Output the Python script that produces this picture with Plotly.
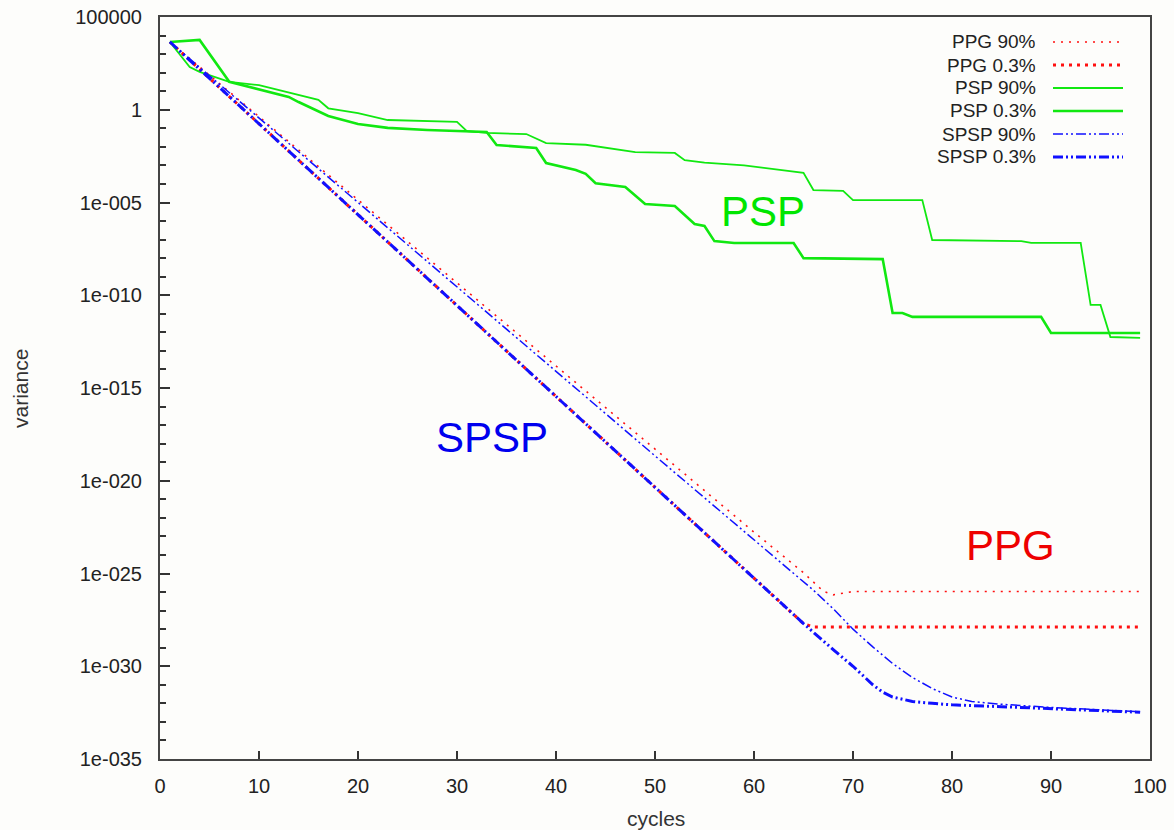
import plotly.graph_objects as go

# ---------------- data ----------------
ppg90_x = [1, 10, 20, 30, 40, 50, 60, 65, 66, 67, 68, 69, 70, 80, 90, 99]
ppg90_y = [4.5e3, 4.2e-1, 1.4e-5, 4.6e-10, 1.5e-14, 5.0e-19, 1.7e-23, 1.1e-25,
           3.5e-26, 1.1e-26, 7.1e-27, 8.9e-27, 1.07e-26, 1.07e-26, 1.07e-26, 1.07e-26]

ppg03_x = [1, 10, 20, 30, 40, 50, 60, 65, 66, 70, 80, 90, 99]
ppg03_y = [4.5e3, 1.7e-1, 2.2e-6, 2.8e-11, 3.5e-16, 4.4e-21, 5.5e-26, 2.0e-28,
           1.3e-28, 1.3e-28, 1.3e-28, 1.3e-28, 1.3e-28]

psp90_x = [1, 3, 4, 7, 10, 14, 16, 17, 20, 23, 27, 30, 31, 33, 37, 39, 43, 48, 52, 53,
           55, 59, 65, 66, 69, 70, 77, 78, 87, 88, 93, 94, 95, 96, 99]
psp90_y = [4.5e3, 2.0e2, 1.1e2, 3.2e1, 2.1e1, 6.3, 3.4, 1.2, 6.6e-1, 2.8e-1, 2.5e-1,
           2.2e-1, 7.1e-2, 5.6e-2, 4.9e-2, 1.6e-2, 1.3e-2, 5.2e-3, 4.7e-3, 1.9e-3,
           1.4e-3, 1.0e-3, 4.0e-4, 4.7e-5, 4.2e-5, 1.35e-5, 1.35e-5, 9.5e-8, 8.3e-8,
           6.6e-8, 6.6e-8, 3.0e-11, 3.0e-11, 5.6e-13, 5.0e-13]

psp03_x = [1, 4, 7, 10, 13, 14, 17, 20, 23, 27, 30, 33, 34, 38, 39, 42, 43, 44, 47, 49,
           52, 54, 55, 56, 58, 64, 65, 73, 74, 75, 76, 89, 90, 99]
psp03_y = [4.5e3, 5.8e3, 3.2e1, 1.3e1, 4.9, 2.6, 4.6e-1, 1.7e-1, 1.05e-1, 8.1e-2,
           7.1e-2, 6.3e-2, 1.26e-2, 8.7e-3, 1.35e-3, 5.6e-4, 3.5e-4, 1.1e-4, 6.9e-5,
           8.3e-6, 6.5e-6, 6.9e-7, 5.4e-7, 8.3e-8, 6.6e-8, 6.6e-8, 1.0e-8, 8.9e-9,
           1.1e-11, 1.1e-11, 6.8e-12, 6.8e-12, 9.3e-13, 9.3e-13]

spsp90_x = [1, 10, 20, 30, 40, 50, 60, 64, 66, 68, 70, 72, 74, 76, 78, 80, 82, 85, 90, 95, 99]
spsp90_y = [4.5e3, 3.5e-1, 1.0e-5, 2.8e-10, 7.9e-15, 2.2e-19, 6.3e-24, 1.0e-25,
            1.26e-26, 1.26e-27, 1.0e-28, 1.1e-29, 1.4e-30, 2.5e-31, 6.3e-32, 2.2e-32,
            1.26e-32, 8.9e-33, 6.0e-33, 4.5e-33, 3.5e-33]

spsp03_x = [1, 10, 20, 30, 40, 50, 60, 65, 68, 70, 72, 73, 74, 76, 78, 80, 85, 90, 95, 99]
spsp03_y = [4.5e3, 1.7e-1, 2.2e-6, 2.8e-11, 3.5e-16, 4.4e-21, 5.5e-26, 2.0e-28,
            7.9e-30, 1.0e-30, 1.0e-31, 4.0e-32, 2.2e-32, 1.26e-32, 1.0e-32, 8.3e-33,
            6.6e-33, 5.2e-33, 4.0e-33, 3.3e-33]

y_tick_vals = [1e5, 1, 1e-5, 1e-10, 1e-15, 1e-20, 1e-25, 1e-30, 1e-35]
y_tick_text = ["100000", "1", "1e-005", "1e-010", "1e-015", "1e-020", "1e-025", "1e-030", "1e-035"]
x_tick_vals = [0, 10, 20, 30, 40, 50, 60, 70, 80, 90, 100]

legend_names = ["PPG 90%", "PPG 0.3%", "PSP 90%", "PSP 0.3%", "SPSP 90%", "SPSP 0.3%"]

# ---------------- styles ----------------
RED = "#ff1010"
GREEN = "#11e811"
BLUE = "#1010ff"
FONT = "Arial, Liberation Sans, sans-serif"

styles = [
    dict(color=RED, width=1.6, dash="2px,6px"),
    dict(color=RED, width=3.0, dash="3px,5px"),
    dict(color=GREEN, width=1.8, dash="solid"),
    dict(color=GREEN, width=2.6, dash="solid"),
    dict(color=BLUE, width=1.5, dash="10px,3px,2px,3px,2px,3px"),
    dict(color=BLUE, width=3.0, dash="10px,3px,2px,3px,2px,3px"),
]

series = [(ppg90_x, ppg90_y), (ppg03_x, ppg03_y), (psp90_x, psp90_y),
          (psp03_x, psp03_y), (spsp90_x, spsp90_y), (spsp03_x, spsp03_y)]

fig = go.Figure()
for (xs, ys), st, nm in zip(series, styles, legend_names):
    fig.add_trace(go.Scatter(x=xs, y=ys, mode="lines", name=nm, line=st,
                             showlegend=False))

# geometry helpers (pixel -> paper) for the custom gnuplot-like legend
L, R, T, B = 160, 1150, 17, 759
def px(x):
    return (x - L) / (R - L)
def py(y):
    return (B - y) / (B - T)

legend_rows = [42, 65, 88, 111, 134, 157]
annotations = []
shapes = []
for nm, st, yy in zip(legend_names, styles, legend_rows):
    annotations.append(dict(text=nm, x=px(1038), y=py(yy), xref="paper", yref="paper",
                            xanchor="right", yanchor="middle", showarrow=False,
                            height=21, valign="middle",
                            font=dict(family=FONT, size=19, color="#222")))
    shapes.append(dict(type="line", xref="paper", yref="paper",
                       x0=px(1053), x1=px(1123), y0=py(yy), y1=py(yy),
                       line=st))

# series labels
for txt, cx, cy, col in [("PSP", 763, 212, "#00e600"), ("SPSP", 492, 438, "#0000ee"),
                         ("PPG", 1010, 545, "#ee0000")]:
    annotations.append(dict(text=txt, x=px(cx), y=py(cy), xref="paper", yref="paper",
                            xanchor="center", yanchor="middle", showarrow=False,
                            font=dict(family=FONT, size=42, color=col)))

# axis titles
annotations.append(dict(text="variance", x=px(20), y=py(389), xref="paper", yref="paper",
                        textangle=-90, showarrow=False, xanchor="center", yanchor="middle",
                        font=dict(family=FONT, size=21, color="#333")))
annotations.append(dict(text="cycles", x=px(656), y=py(818), xref="paper", yref="paper",
                        showarrow=False, xanchor="center", yanchor="middle",
                        font=dict(family=FONT, size=21, color="#333")))

fig.update_layout(
    width=1174, height=830,
    margin=dict(l=L, r=1174 - R, t=T, b=830 - B, pad=0, autoexpand=False),
    paper_bgcolor="#fdfdfb", plot_bgcolor="#fdfdfb",
    showlegend=False,
    annotations=annotations, shapes=shapes,
    font=dict(family=FONT, color="#222"),
)

fig.update_xaxes(range=[0, 100], tickvals=x_tick_vals, ticks="inside", ticklen=8,
                 tickwidth=1.5, tickcolor="#333", showgrid=False, zeroline=False,
                 showline=True, linecolor="#444", linewidth=2, mirror=True,
                 automargin=False,
                 tickfont=dict(family=FONT, size=20, color="#222"),
                 ticklabelstandoff=8)
fig.update_yaxes(type="log", range=[-35, 5], tickvals=y_tick_vals, ticktext=y_tick_text,
                 ticks="inside", ticklen=10, tickwidth=1.5, tickcolor="#333",
                 minor=dict(tickvals=[10.0 ** k for k in range(-35, 6)], ticks="inside",
                            ticklen=6, tickwidth=1.5, tickcolor="#333"),
                 showgrid=False, zeroline=False, showline=True, linecolor="#444",
                 linewidth=2, mirror=True, automargin=False,
                 tickfont=dict(family=FONT, size=20, color="#222"),
                 ticklabelstandoff=12)

fig.write_html("out.html")
